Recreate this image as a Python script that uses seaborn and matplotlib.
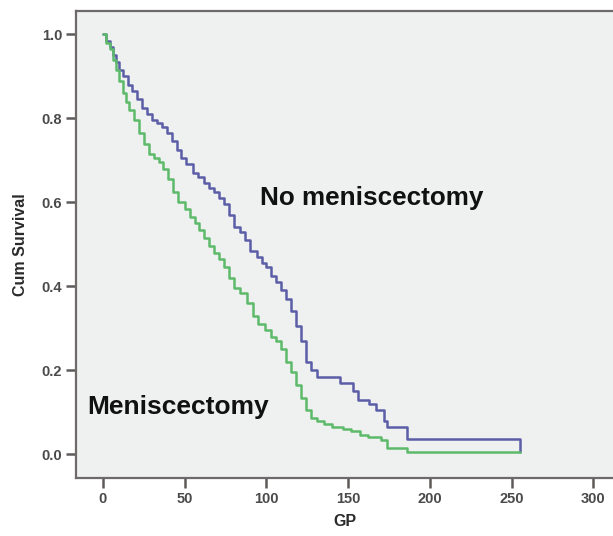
import pandas as pd
import matplotlib.pyplot as plt
import seaborn as sns

# Kaplan-Meier estimates (time in GP, cumulative survival)
t_nomen = [0, 2, 4, 6, 8, 10, 12, 15, 18, 21, 24, 27, 30, 33, 36, 39, 42, 45, 48, 51,
           55, 58, 62, 65, 68, 71, 74, 77, 80, 84, 87, 90, 94, 97, 100, 103, 106, 109,
           112, 115, 118, 121, 124, 127, 131, 145, 153, 156, 163, 167, 172, 174, 186, 255]
s_nomen = [1.0, 0.985, 0.97, 0.95, 0.935, 0.915, 0.90, 0.88, 0.865, 0.845, 0.825, 0.81,
           0.795, 0.79, 0.78, 0.765, 0.745, 0.725, 0.705, 0.69, 0.67, 0.66, 0.645, 0.635,
           0.625, 0.61, 0.595, 0.57, 0.54, 0.53, 0.51, 0.485, 0.47, 0.455, 0.445, 0.425,
           0.41, 0.39, 0.37, 0.34, 0.305, 0.27, 0.22, 0.20, 0.183, 0.17, 0.15, 0.13, 0.12,
           0.105, 0.08, 0.064, 0.036, 0.005]

t_men = [0, 2, 4, 6, 8, 10, 12, 14, 16, 19, 22, 25, 28, 31, 34, 37, 40, 43, 46, 50, 53,
         56, 59, 62, 65, 68, 71, 74, 77, 80, 84, 88, 92, 95, 99, 103, 106, 109, 112, 115,
         118, 121, 124, 127, 131, 135, 140, 147, 152, 157, 162, 170, 174, 186, 255]
s_men = [1.0, 0.98, 0.965, 0.94, 0.915, 0.89, 0.86, 0.84, 0.82, 0.795, 0.765, 0.74, 0.715,
         0.705, 0.695, 0.68, 0.655, 0.625, 0.60, 0.585, 0.565, 0.55, 0.535, 0.515, 0.495,
         0.48, 0.465, 0.445, 0.42, 0.395, 0.385, 0.36, 0.33, 0.31, 0.295, 0.28, 0.27, 0.25,
         0.22, 0.195, 0.165, 0.135, 0.105, 0.085, 0.08, 0.072, 0.065, 0.06, 0.055, 0.045,
         0.04, 0.033, 0.014, 0.005, 0.005]

df = pd.concat([
    pd.DataFrame({"GP": t_nomen, "surv": s_nomen, "grupo": "No meniscectomy"}),
    pd.DataFrame({"GP": t_men, "surv": s_men, "grupo": "Meniscectomy"}),
])

sns.set_style("white")
plt.rcParams["font.family"] = ["Liberation Sans", "DejaVu Sans"]

fig = plt.figure(figsize=(6.13, 5.36), dpi=100)
ax = fig.add_axes([0.124, 0.108, 0.876, 0.871])
ax.set_facecolor("#eff0f0")

sns.lineplot(data=df, x="GP", y="surv", hue="grupo", estimator=None, sort=False,
             palette={"No meniscectomy": "#5b5ea6", "Meniscectomy": "#5dba6a"},
             drawstyle="steps-post", linewidth=1.8, legend=False, ax=ax)

ax.set_xlim(-16.5, 312)
ax.set_ylim(-0.057, 1.055)
ax.set_xticks([0, 50, 100, 150, 200, 250, 300])
ax.set_yticks([0.0, 0.2, 0.4, 0.6, 0.8, 1.0])
ax.set_yticklabels(["0.0", "0.2", "0.4", "0.6", "0.8", "1.0"])

for lado in ["left", "bottom", "top"]:
    ax.spines[lado].set_color("#6e6a6a")
    ax.spines[lado].set_linewidth(1.6)
ax.spines["right"].set_visible(False)
ax.tick_params(axis="both", bottom=True, left=True, direction="out", length=7, width=1.8,
               color="#5e5a5a", labelsize=10.5, labelcolor="#4a4a4a", pad=3)
for lbl in ax.get_xticklabels() + ax.get_yticklabels():
    lbl.set_fontweight("bold")

ax.set_xlabel("GP", fontsize=11.5, fontweight="bold", color="#2a2a2a", labelpad=6)
ax.set_ylabel("Cum Survival", fontsize=11.5, fontweight="bold", color="#2a2a2a", labelpad=10)

ax.text(96, 0.61, "No meniscectomy", fontsize=18.8, fontweight="bold", color="#111111",
        va="center", ha="left")
ax.text(-9.8, 0.112, "Meniscectomy", fontsize=19, fontweight="bold", color="#111111",
        va="center", ha="left")

fig.savefig("out.png", dpi=100)
